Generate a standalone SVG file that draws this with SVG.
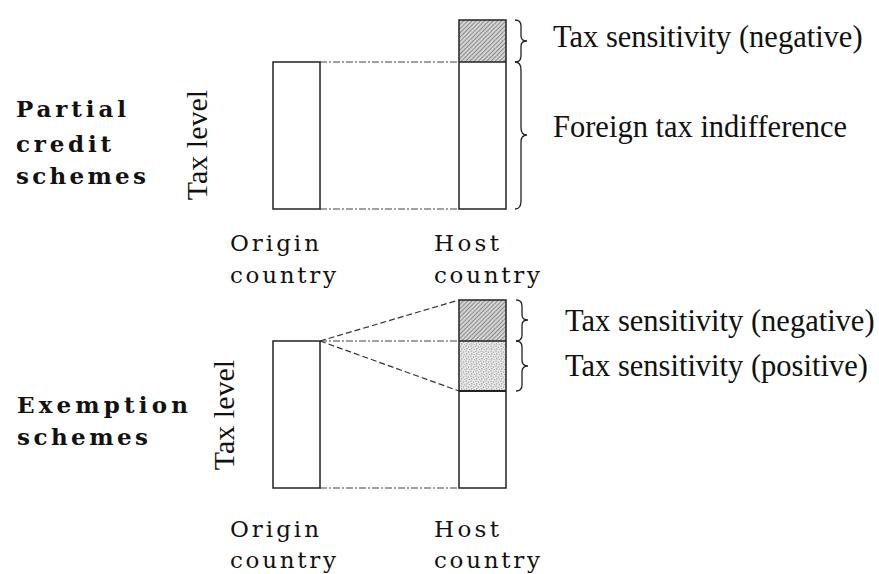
<svg xmlns="http://www.w3.org/2000/svg" width="879" height="574" viewBox="0 0 879 574">
<style>
.box{fill:none;stroke:#222;stroke-width:1.5}
.dd{fill:none;stroke:#444;stroke-width:1.2;stroke-dasharray:7,2,2,2}
.da{fill:none;stroke:#333;stroke-width:1.2;stroke-dasharray:6,3}
.br{fill:none;stroke:#222;stroke-width:1.3}
</style>
<defs>
<pattern id="hatch" patternUnits="userSpaceOnUse" width="3" height="3" patternTransform="rotate(45)">
<rect width="3" height="3" fill="#d4d4d4"/>
<line x1="0" y1="0" x2="0" y2="3" stroke="#5a5a5a" stroke-width="1.2"/>
</pattern>
<pattern id="dots" patternUnits="userSpaceOnUse" width="5" height="5">
<rect width="5" height="5" fill="#e6e6e6"/>
<circle cx="1" cy="1" r="0.6" fill="#777"/>
<circle cx="3.5" cy="2" r="0.6" fill="#888"/>
<circle cx="1.8" cy="3.8" r="0.6" fill="#777"/>
<circle cx="4.3" cy="4.5" r="0.5" fill="#999"/>
</pattern>
</defs>

<g id="labels-left" font-family="DejaVu Serif, serif" fill="#111">
<g font-size="23" font-weight="bold">
<text x="16" y="117" textLength="110" lengthAdjust="spacing">Partial</text>
<text x="16" y="152" textLength="95" lengthAdjust="spacing">credit</text>
<text x="16" y="184" textLength="130" lengthAdjust="spacing">schemes</text>
<text x="17" y="413" textLength="171" lengthAdjust="spacing">Exemption</text>
<text x="17" y="445" textLength="131" lengthAdjust="spacing">schemes</text>
</g>
<g font-family="Liberation Serif, serif" font-size="30">
<text transform="translate(207,145) rotate(-90)" text-anchor="middle">Tax level</text>
<text transform="translate(234,415) rotate(-90)" text-anchor="middle">Tax level</text>
</g>
</g>

<g id="connectors">
<line class="dd" x1="320" y1="62" x2="459" y2="62"/>
<line class="dd" x1="320" y1="209" x2="459" y2="209"/>
<line class="da" x1="320" y1="341" x2="459" y2="300"/>
<line class="da" x1="320" y1="341" x2="459" y2="391"/>
<line class="dd" x1="320" y1="341" x2="459" y2="341"/>
<line class="dd" x1="320" y1="488" x2="459" y2="488"/>
</g>

<g id="top-origin">
<rect class="box" x="273" y="62" width="47" height="147"/>
</g>
<g id="top-host">
<rect x="459" y="20" width="47" height="42" fill="url(#hatch)"/>
<rect class="box" x="459" y="20" width="47" height="189"/>
<line class="box" x1="459" y1="62" x2="506" y2="62"/>
</g>
<g id="top-braces">
<path class="br" d="M515,20 Q521,20 521,26 L521,36 Q521,41 527,41 Q521,41 521,46 L521,56 Q521,62 515,62"/>
<path class="br" d="M515,62 Q521,62 521,70 L521,128 Q521,135 527,135 Q521,135 521,142 L521,201 Q521,209 515,209"/>
</g>
<g id="top-texts" font-family="Liberation Serif, serif" fill="#111">
<text font-size="30.5" x="553" y="47">Tax sensitivity (negative)</text>
<text font-size="30.5" x="553" y="137">Foreign tax indifference</text>
<g font-family="DejaVu Serif, serif" font-size="23">
<text x="230" y="251" textLength="89" lengthAdjust="spacing">Origin</text>
<text x="230" y="283" textLength="106" lengthAdjust="spacing">country</text>
<text x="434" y="251" textLength="65" lengthAdjust="spacing">Host</text>
<text x="434" y="283" textLength="106" lengthAdjust="spacing">country</text>
</g>
</g>

<g id="bottom-origin">
<rect class="box" x="273" y="341" width="47" height="147"/>
</g>
<g id="bottom-host">
<rect x="459" y="300" width="47" height="41" fill="url(#hatch)"/>
<rect x="459" y="341" width="47" height="50" fill="url(#dots)"/>
<rect class="box" x="459" y="300" width="47" height="188"/>
<line class="box" x1="459" y1="341" x2="506" y2="341"/>
<line x1="459" y1="391" x2="506" y2="391" stroke="#222" stroke-width="2"/>
</g>
<g id="bottom-braces">
<path class="br" d="M516,300 Q522,300 522,306 L522,315 Q522,320 528,320 Q522,320 522,325 L522,335 Q522,341 516,341"/>
<path class="br" d="M516,341 Q522,341 522,347 L522,360 Q522,366 528,366 Q522,366 522,372 L522,385 Q522,391 516,391"/>
</g>
<g id="bottom-texts" font-family="Liberation Serif, serif" fill="#111">
<text font-size="30.5" x="565" y="331">Tax sensitivity (negative)</text>
<text font-size="30.5" x="565" y="376">Tax sensitivity (positive)</text>
<g font-family="DejaVu Serif, serif" font-size="23">
<text x="230" y="537" textLength="89" lengthAdjust="spacing">Origin</text>
<text x="230" y="568" textLength="106" lengthAdjust="spacing">country</text>
<text x="434" y="537" textLength="65" lengthAdjust="spacing">Host</text>
<text x="434" y="568" textLength="106" lengthAdjust="spacing">country</text>
</g>
</g>
</svg>
